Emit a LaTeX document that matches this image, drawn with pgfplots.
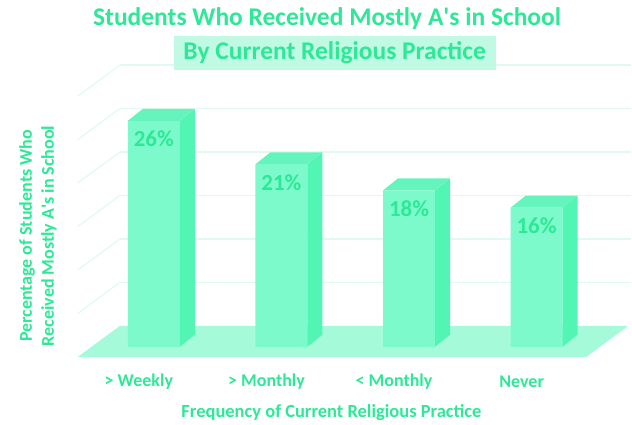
\documentclass[border=0pt]{standalone}
\usepackage{pgfplots}
\pgfplotsset{compat=1.18}
\usepackage{fontspec}
\setmainfont{Carlito}
\definecolor{txt}{RGB}{45,232,150}
\definecolor{frontc}{RGB}{125,250,203}
\definecolor{sidec}{RGB}{82,245,180}
\definecolor{topc}{RGB}{102,244,190}
\definecolor{floorc}{RGB}{165,250,218}
\definecolor{gridc}{RGB}{225,250,240}
\definecolor{hl}{RGB}{192,250,228}
\begin{document}
\begin{tikzpicture}
\begin{axis}[
  scale only axis, width=632bp, height=423bp,
  xmin=-1.2060, xmax=3.7431, ymin=-8.7356, ymax=39.885,
  axis line style={draw=none}, major tick length=0pt,
  ytick=\empty, xtick={0,1,2,3},
  xticklabels={{> Weekly},{> Monthly},{< Monthly},{Never}},
  xticklabel style={anchor=center, yshift=41bp, xshift=-15bp, text=txt, font=\fontsize{18bp}{20bp}\selectfont\bfseries},
  /pgf/number format/assume math mode=true,
  clip=false,
]
% back wall grid lines
\addplot[gridc, line width=1.2bp] coordinates {(-0.266,7.41)(3.743,7.41)};
\addplot[gridc, line width=1.2bp] coordinates {(-0.266,12.41)(3.743,12.41)};
\addplot[gridc, line width=1.2bp] coordinates {(-0.266,17.41)(3.743,17.41)};
\addplot[gridc, line width=1.2bp] coordinates {(-0.266,22.41)(3.743,22.41)};
\addplot[gridc, line width=1.2bp] coordinates {(-0.266,27.41)(3.743,27.41)};
\addplot[gridc, line width=1.2bp] coordinates {(-0.266,32.41)(3.743,32.41)};
% left wall grid lines
\addplot[gridc, line width=1.2bp] coordinates {(-0.595,3.851)(-0.266,7.41)};
\addplot[gridc, line width=1.2bp] coordinates {(-0.595,8.851)(-0.266,12.41)};
\addplot[gridc, line width=1.2bp] coordinates {(-0.595,13.851)(-0.266,17.41)};
\addplot[gridc, line width=1.2bp] coordinates {(-0.595,18.851)(-0.266,22.41)};
\addplot[gridc, line width=1.2bp] coordinates {(-0.595,23.851)(-0.266,27.41)};
\addplot[gridc, line width=1.2bp] coordinates {(-0.595,28.851)(-0.266,32.41)};
% floor
\addplot[fill=floorc, draw=none] coordinates {(-0.595,-1.149)(3.391,-1.149)(3.720,2.41)(-0.266,2.41)} --cycle;
% bar fronts
\addplot[ybar, bar width=52bp, bar shift=0pt, fill=frontc, draw=none,
  nodes near coords={\pgfmathprintnumber{\pgfplotspointmeta}\%},
  every node near coord/.append style={anchor=center, yshift=-18bp, text=txt, font=\fontsize{23bp}{25bp}\selectfont\bfseries}]
  coordinates {(0,26)(1,21)(2,18)(3,16)};
% bar sides
\addplot[fill=sidec, draw=none] coordinates {(0.2036,0)(0.3211,1.379)(0.3211,27.379)(0.2036,26)} --cycle;
\addplot[fill=sidec, draw=none] coordinates {(1.2036,0)(1.3211,1.379)(1.3211,22.379)(1.2036,21)} --cycle;
\addplot[fill=sidec, draw=none] coordinates {(2.2036,0)(2.3211,1.379)(2.3211,19.379)(2.2036,18)} --cycle;
\addplot[fill=sidec, draw=none] coordinates {(3.2036,0)(3.3211,1.379)(3.3211,17.379)(3.2036,16)} --cycle;
% bar tops
\addplot[fill=topc, draw=none] coordinates {(-0.2036,26)(-0.0861,27.379)(0.3211,27.379)(0.2036,26)} --cycle;
\addplot[fill=topc, draw=none] coordinates {(0.7964,21)(0.9139,22.379)(1.3211,22.379)(1.2036,21)} --cycle;
\addplot[fill=topc, draw=none] coordinates {(1.7964,18)(1.9139,19.379)(2.3211,19.379)(2.2036,18)} --cycle;
\addplot[fill=topc, draw=none] coordinates {(2.7964,16)(2.9139,17.379)(3.3211,17.379)(3.2036,16)} --cycle;
% titles and labels
\node[text=txt, font=\fontsize{25.5bp}{27bp}\selectfont\bfseries] at (rel axis cs:0.518,0.9574) {Students Who Received Mostly A\textquotesingle s in School};
\node[fill=hl, text=txt, inner xsep=10bp, inner ysep=6bp, font=\fontsize{25.5bp}{27bp}\selectfont\bfseries] at (rel axis cs:0.530,0.875) {By Current Religious Practice};
\node[rotate=90, align=center, text=txt, font=\fontsize{18bp}{22bp}\selectfont\bfseries] at (rel axis cs:0.060,0.442) {Percentage of Students Who\\Received Mostly A\textquotesingle s in School};
\node[text=txt, font=\fontsize{18.5bp}{20bp}\selectfont\bfseries] at (rel axis cs:0.525,0.0236) {Frequency of Current Religious Practice};
\end{axis}
\end{tikzpicture}
\end{document}
